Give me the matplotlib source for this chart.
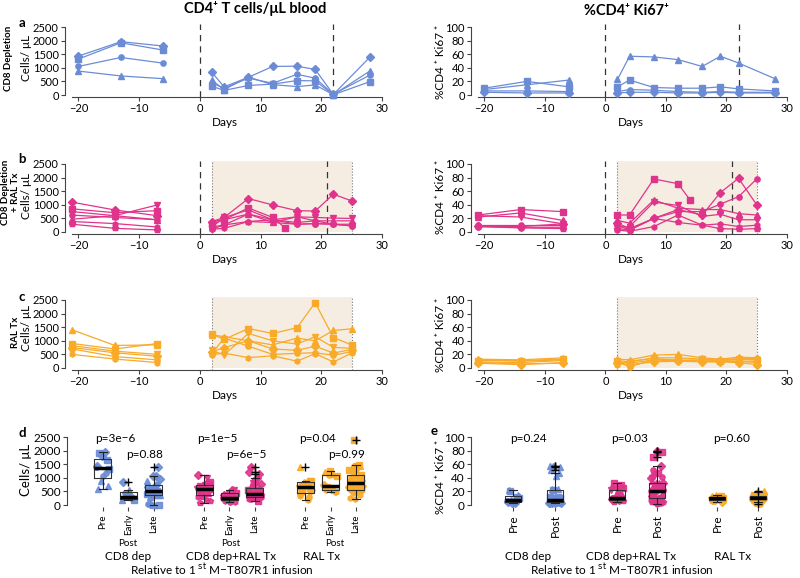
import numpy as np
import matplotlib
matplotlib.use("Agg")
import matplotlib.pyplot as plt

plt.rcParams['font.family'] = ['Lato', 'DejaVu Sans']
plt.rcParams['font.size'] = 7
plt.rcParams['axes.linewidth'] = 0.8
plt.rcParams['axes.edgecolor'] = '#444444'

BLUE = '#6b8cd5'
PINK = '#e0338b'
ORANGE = '#f8aa28'
SHADE = '#f6ede2'
nan = np.nan

# ---- a: CD8 depletion (4 animals) ----
days_a = [-20, -13, -6, 2, 4, 8, 12, 16, 19, 22, 28]
markers_a = ['D', 's', 'o', '^']
cd4_a = [
    [1430, 1960, 1800, 830, 300, 650, 1050, 1060, 940, 20, 1390],
    [1320, 1920, 1650, 320, 170, 350, 400, 530, 520, 10, 490],
    [1050, 1380, 1170, 440, 250, 620, 430, 760, 620, 30, 730],
    [880, 700, 600, 540, 200, 660, 380, 310, 370, 10, 880],
]
ki67_a = [
    [4, 3, 3, 3, 4, 4, 3, 3, 4, 3, 3],
    [10, 20, 12, 12, 22, 11, 10, 10, 12, 9, 6],
    [6, 6, 5, 5, 8, 7, 5, 4, 5, 4, 4],
    [8, 15, 22, 23, 57, 56, 52, 42, 57, 47, 24],
]

# ---- b: CD8 depletion + RAL Tx (7 animals) ----
days_b = [-21, -14, -7, 2, 4, 8, 12, 14, 16, 19, 22, 25]
markers_b = ['D', 's', 'v', 'o', '^', 'h', 'p']
cd4_b = [
    [1095, 810, 600, 385, 535, 1230, 995, nan, 785, 770, 1390, 1145],
    [850, 710, 785, 285, 450, 885, 535, 160, nan, nan, nan, nan],
    [750, 600, 995, 185, 535, 810, 450, nan, 560, 535, 510, 500],
    [620, 535, 450, 100, 260, 660, 450, nan, 285, 310, 285, 225],
    [470, 600, 450, 385, 450, 660, 350, nan, 560, 410, 410, 410],
    [385, 310, 185, 100, 135, 385, 350, nan, 285, 310, 285, 225],
    [285, 135, 75, 185, 260, 385, 450, nan, 350, 410, 285, 285],
]
ki67_b = [
    [9, 8, 12, 13, 5, 20, 33, nan, 25, 58, 79, 40],
    [25, 33, 30, 25, 25, 78, 71, 47, nan, nan, nan, nan],
    [24, 22, 12, 7, 8, 44, 39, nan, 23, 26, 18, 18],
    [10, 10, 10, 10, 3, 20, 30, nan, 30, 41, 52, 78],
    [22, 28, 17, 17, 13, 47, 35, nan, 33, 33, 27, 25],
    [8, 7, 7, 3, 1, 8, 25, nan, 10, 12, 8, 10],
    [8, 6, 5, 5, 3, 20, 14, nan, 10, 5, 4, 5],
]

# ---- c: RAL Tx (6 animals) ----
days_c = [-21, -14, -7, 2, 4, 8, 12, 16, 19, 22, 25]
markers_c = ['^', 's', 'v', 'D', 'o', 'h']
cd4_c = [
    [1400, 830, 850, 1220, 1150, 1000, 850, 1100, 1000, 1380, 1440],
    [900, 700, 900, 1250, 1050, 1450, 1270, 1480, 2400, 1120, 850],
    [820, 620, 500, 650, 480, 1270, 1000, 880, 1150, 760, 720],
    [750, 560, 430, 600, 750, 1000, 700, 650, 800, 550, 680],
    [700, 420, 300, 530, 1100, 800, 500, 540, 560, 470, 600],
    [500, 330, 200, 480, 550, 380, 450, 250, 530, 220, 550],
]
ki67_c = [
    [13, 12, 15, 13, 12, 19, 20, 15, 13, 16, 15],
    [11, 11, 13, 11, 9, 15, 15, 13, 11, 13, 12],
    [9, 8, 11, 9, 7, 12, 12, 10, 9, 10, 8],
    [7, 5, 8, 7, 5, 9, 10, 9, 9, 8, 5],
    [12, 10, 12, 9, 2, 12, 10, 10, 11, 10, 10],
    [8, 6, 7, 5, 10, 14, 11, 12, 12, 14, 14],
]

pvals_d = ['p=3e−6', 'p=0.88', 'p=1e−5', 'p=6e−5', 'p=0.04', 'p=0.99']
pvals_e = ['p=0.24', 'p=0.03', 'p=0.60']
group_names = ['CD8 dep', 'CD8 dep+RAL Tx', 'RAL Tx']

W, H = 800, 578
fig = plt.figure(figsize=(8, 5.78), dpi=100)


def px_axes(x0, x1, y_zero, ylim, top_val):
    ppu = 68.0 / top_val
    ytop = y_zero - ylim[1] * ppu
    ybot = y_zero - ylim[0] * ppu
    return fig.add_axes([x0 / W, 1 - ybot / H, (x1 - x0) / W, (ybot - ytop) / H])


def ftext(x, y, s, **kw):
    kw.setdefault('ha', 'center')
    kw.setdefault('va', 'center')
    fig.text(x / W, 1 - y / H, s, **kw)


def lines(ax, days, rows, markers, color):
    d = np.array(days, float)
    for vals, m in zip(rows, markers):
        v = np.array(vals, float)
        for part in (d < 0, d > 0):
            ok = part & ~np.isnan(v)
            ax.plot(d[ok], v[ok], '-', marker=m, color=color, lw=0.9, ms=3.8,
                    mec=color, clip_on=False, zorder=3)


def style_time(ax, top, step):
    ax.set_xlim(-22.2, 30.5)
    ax.set_ylim(-0.032 * top, 1.04 * top)
    ax.spines[['top', 'right']].set_visible(False)
    ax.spines['left'].set_bounds(0, top)
    ax.spines['bottom'].set_bounds(-21, 30)
    ax.set_xticks([-20, -10, 0, 10, 20, 30])
    ax.set_yticks(np.arange(0, top + 1, step))
    ax.tick_params(length=3, width=0.8, pad=1.5, labelsize=8, color='#444444')
    ax.set_xlabel('Days', labelpad=2, fontsize=8.5)


def shade(ax, top):
    ax.fill_between([2, 25], 0, 1.04 * top, color=SHADE, lw=0, zorder=0)
    ax.axvline(2, color='#777777', ls=':', lw=0.8, zorder=1)
    ax.axvline(25, color='#777777', ls=':', lw=0.8, zorder=1)


def dash(ax, xs):
    for x in xs:
        ax.axvline(x, color='#333333', ls=(0, (5, 4)), lw=0.9, zorder=2)


rows = [
    (95, days_a, cd4_a, ki67_a, markers_a, BLUE, [0, 22], False),
    (232, days_b, cd4_b, ki67_b, markers_b, PINK, [0, 21], True),
    (368, days_c, cd4_c, ki67_c, markers_c, ORANGE, [], True),
]
for y0, days, cd4, ki, mk, col, dl, sh in rows:
    axl = px_axes(65, 385, y0, (-80, 2600), 2500)
    style_time(axl, 2500, 500)
    axr = px_axes(471, 790, y0, (-3.2, 104), 100)
    style_time(axr, 100, 20)
    for ax, data, top in ((axl, cd4, 2500), (axr, ki, 100)):
        if sh:
            shade(ax, top)
        dash(ax, dl)
        lines(ax, days, data, mk, col)

# ---- titles and row labels ----
ftext(255, 9, 'CD4⁺ T cells/μL blood', fontsize=10.5, fontweight='bold')
ftext(627, 11, '%CD4⁺ Ki67⁺', fontsize=10.5, fontweight='bold')
for lab, y in (('a', 23), ('b', 159), ('c', 297), ('d', 433)):
    ftext(22, y, lab, fontsize=9.5, fontweight='bold')
ftext(434, 431, 'e', fontsize=9.5, fontweight='bold')

ftext(9, 58, 'CD8 Depletion', rotation=90, fontsize=7, fontweight='bold')
ftext(6, 192, 'CD8 Depletion', rotation=90, fontsize=7, fontweight='bold')
ftext(16, 192, '+ RAL Tx', rotation=90, fontsize=7, fontweight='bold')
ftext(15, 332, 'RAL Tx', rotation=90, fontsize=7, fontweight='bold')
for y in (58, 196, 328):
    ftext(27, y, 'Cells/ μL', rotation=90, fontsize=8.5)
for y in (62, 197, 335):
    ftext(440, y, '%CD4 ⁺ Ki67 ⁺', rotation=90, fontsize=8.5)

# ---- box plots ----
jit = np.array([-0.28, 0.12, -0.05, 0.3, -0.18, 0.22, 0.02, -0.33, 0.16,
                -0.1, 0.27, -0.22, 0.07, -0.26, 0.19, -0.14])


def split(days, rows, markers, edges):
    d = np.array(days, float)
    out = []
    for lo, hi in edges:
        vals, mks = [], []
        for r, m in zip(rows, markers):
            v = np.array(r, float)
            ok = (d > lo) & (d < hi) & ~np.isnan(v)
            vals += list(v[ok])
            mks += [m] * int(ok.sum())
        out.append((np.array(vals), mks))
    return out


def box_panel(ax, groups, positions, colors, width):
    for (vals, mks), pos, col in zip(groups, positions, colors):
        for i, (v, m) in enumerate(zip(vals, mks)):
            ax.plot(pos + jit[i % len(jit)] * width * 1.2, v, marker=m, ls='none',
                    color=col, mec=col, ms=3.8, alpha=0.9, zorder=2, clip_on=False)
    ax.boxplot([g[0] for g in groups], positions=positions, widths=width,
               manage_ticks=False, capwidths=width * 0.45,
               boxprops=dict(color='#333333', lw=0.8),
               whiskerprops=dict(color='#222222', lw=0.8),
               capprops=dict(color='#222222', lw=0.8),
               medianprops=dict(color='black', lw=2.5),
               flierprops=dict(marker='+', mec='black', ms=6, mew=1))
    ax.spines[['top', 'right', 'bottom']].set_visible(False)
    ax.tick_params(length=3, width=0.8, pad=1.5, labelsize=8.5, color='#444444')
    ax.tick_params(axis='x', labelsize=7, pad=2)


# d
sets = [(days_a, cd4_a, markers_a, BLUE), (days_b, cd4_b, markers_b, PINK),
        (days_c, cd4_c, markers_c, ORANGE)]
grp_d, col_d = [], []
for days, data, mk, col in sets:
    grp_d += split(days, data, mk, [(-99, 0), (0, 5), (5, 99)])
    col_d += [col] * 3
pos_d = [0, 1, 2, 4, 5, 6, 8, 9, 10]
axd = px_axes(67, 380, 505, (-80, 2600), 2500)
axd.set_xlim(-1.42, 10.95)
axd.set_ylim(-80, 2600)
box_panel(axd, grp_d, pos_d, col_d, 0.67)
axd.spines['left'].set_bounds(0, 2500)
axd.set_yticks(np.arange(0, 2501, 500))
axd.set_xticks(pos_d, ['Pre', 'Early', 'Late'] * 3, rotation=90, va='top')
ftext(26, 470, 'Cells/ μL', rotation=90, fontsize=9.5)

# e
sets_k = [(days_a, ki67_a, markers_a, BLUE), (days_b, ki67_b, markers_b, PINK),
          (days_c, ki67_c, markers_c, ORANGE)]
grp_e, col_e = [], []
for days, data, mk, col in sets_k:
    grp_e += split(days, data, mk, [(-99, 0), (0, 99)])
    col_e += [col] * 2
pos_e = [0, 1.68, 4.16, 5.76, 8.16, 9.8]
axe = px_axes(471, 790, 505, (-3.2, 104), 100)
axe.set_xlim(-1.68, 11.08)
axe.set_ylim(-3.2, 104)
box_panel(axe, grp_e, pos_e, col_e, 0.64)
axe.spines['left'].set_bounds(0, 100)
axe.set_yticks(np.arange(0, 101, 20))
axe.set_xticks(pos_e, ['Pre', 'Post'] * 3, rotation=90, va='top', fontsize=8.5)
ftext(440, 477, '%CD4 ⁺ Ki67 ⁺', rotation=90, fontsize=8.5)

# p values and group captions
for s, (x, y) in zip(pvals_d, [(115, 439), (145, 455), (217, 439), (246, 455),
                               (317, 439), (347, 455)]):
    ftext(x, y, s, fontsize=8.5)
for s, x in zip(pvals_e, [528, 630, 732]):
    ftext(x, 439, s, fontsize=8.5)
for x in (128, 231, 335):
    ftext(x, 543, 'Post', fontsize=7)
for s, x in zip(group_names, [128, 231, 322]):
    ftext(x, 557, s, fontsize=8.5)
for s, x in zip(group_names, [528, 631, 733]):
    ftext(x, 557, s, fontsize=8.5)
for x in (222, 622):
    ftext(x, 569, r'Relative to 1$^{\rm\ st}$ M−T807R1 infusion', fontsize=8.5)

fig.savefig('out.png', dpi=100)
